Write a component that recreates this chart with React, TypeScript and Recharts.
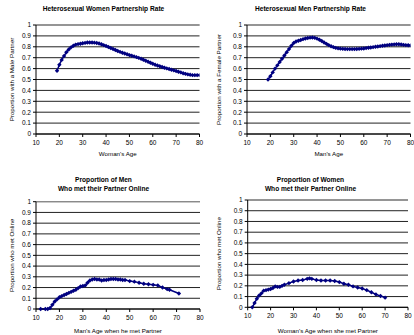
import React from "react";
import {
  LineChart,
  Line,
  XAxis,
  YAxis,
  CartesianGrid,
  ReferenceLine,
} from "recharts";

const xTicks = [10, 20, 30, 40, 50, 60, 70, 80];
const yTicks = [0, 0.1, 0.2, 0.3, 0.4, 0.5, 0.6, 0.7, 0.8, 0.9, 1];

const womenAges = [19,20,21,22,23,24,25,26,27,28,29,30,31,32,33,34,35,36,37,38,39,40,41,42,43,44,45,46,47,48,49,50,51,52,53,54,55,56,57,58,59,60,61,62,63,64,65,66,67,68,69,70,71,72,73,74,75,76,77,78,79,80];
const womenRate = [0.58,0.635,0.68,0.715,0.75,0.775,0.795,0.81,0.82,0.825,0.828,0.832,0.836,0.839,0.84,0.84,0.838,0.835,0.83,0.823,0.815,0.807,0.798,0.789,0.78,0.771,0.762,0.753,0.745,0.738,0.731,0.724,0.718,0.712,0.705,0.698,0.69,0.681,0.672,0.663,0.654,0.645,0.636,0.628,0.621,0.614,0.608,0.602,0.596,0.59,0.584,0.578,0.571,0.565,0.558,0.552,0.547,0.543,0.54,0.54,0.54,0.54];

const menAges = [19,20,21,22,23,24,25,26,27,28,29,30,31,32,33,34,35,36,37,38,39,40,41,42,43,44,45,46,47,48,49,50,51,52,53,54,55,56,57,58,59,60,61,62,63,64,65,66,67,68,69,70,71,72,73,74,75,76,77,78,79,80];
const menRate = [0.5,0.53,0.565,0.6,0.63,0.66,0.69,0.72,0.75,0.78,0.81,0.835,0.848,0.856,0.863,0.87,0.876,0.881,0.884,0.885,0.882,0.875,0.865,0.853,0.84,0.827,0.815,0.805,0.797,0.79,0.786,0.783,0.781,0.78,0.779,0.779,0.779,0.779,0.78,0.781,0.783,0.785,0.788,0.791,0.794,0.797,0.8,0.803,0.806,0.809,0.812,0.815,0.818,0.82,0.822,0.823,0.823,0.821,0.818,0.815,0.814,0.813];

const menOnlineAges = [12,14,15,16,17,18,19,20,21,22,23,24,25,26,27,28,29,30,31,32,33,34,35,36,37,38,39,40,41,42,43,44,45,46,47,48,50,52,54,56,58,60,62,64,66,67,71];
const menOnline = [0,0,0,0.01,0.04,0.07,0.09,0.11,0.12,0.13,0.14,0.15,0.16,0.17,0.18,0.195,0.21,0.215,0.22,0.245,0.265,0.275,0.28,0.275,0.275,0.265,0.27,0.27,0.275,0.28,0.28,0.28,0.275,0.275,0.27,0.27,0.26,0.255,0.245,0.235,0.23,0.225,0.22,0.2,0.185,0.18,0.145];

const womenOnlineAges = [12,13,14,15,16,17,18,19,20,21,22,23,24,25,26,28,30,32,34,36,37,38,40,42,44,46,48,50,52,54,56,58,60,62,64,66,68,70];
const womenOnline = [0,0.04,0.08,0.11,0.13,0.155,0.16,0.165,0.17,0.18,0.195,0.19,0.19,0.2,0.21,0.225,0.24,0.25,0.255,0.265,0.27,0.265,0.255,0.25,0.25,0.25,0.245,0.235,0.22,0.21,0.195,0.185,0.175,0.16,0.14,0.12,0.105,0.09];

const zip = (xs: number[], ys: number[]) => xs.map((x, i) => ({ x, y: ys[i] }));

const FONT = "'Liberation Sans', Arial, sans-serif";
const NAVY = "#000080";

const Diamond = (props: any) => {
  const { cx, cy, index } = props;
  if (cx == null || cy == null) return <g key={index} />;
  const s = 2.2;
  return (
    <polygon
      key={index}
      points={`${cx},${cy - s} ${cx + s},${cy} ${cx},${cy + s} ${cx - s},${cy}`}
      fill={NAVY}
      stroke="none"
    />
  );
};

type PanelProps = {
  data: { x: number; y: number }[];
  left: number;
  top: number;
  width: number;
  height: number;
  margin: { top: number; right: number; bottom: number; left: number };
  yWidth: number;
  xHeight: number;
  yLabel: string;
  xLabel: string;
  title: string[];
  titleTop: number;
};

const tickStyle = { fontSize: 6.5, fill: "#000", fontFamily: FONT };

const Panel = (p: PanelProps) => (
  <div style={{ position: "absolute", left: p.left, top: p.top, width: p.width, height: p.height }}>
    <div
      style={{
        position: "absolute",
        left: 0,
        width: p.width,
        top: p.titleTop,
        textAlign: "center",
        fontFamily: FONT,
        fontWeight: "bold",
        fontSize: 6.6,
        lineHeight: "9px",
        color: "#000",
      }}
    >
      {p.title.map((t, i) => (
        <div key={i}>{t}</div>
      ))}
    </div>
    <LineChart width={p.width} height={p.height} data={p.data} margin={p.margin}>
      <CartesianGrid horizontal vertical={false} stroke="#222" strokeWidth={1} />
      <XAxis
        dataKey="x"
        type="number"
        domain={[10, 80]}
        ticks={xTicks}
        interval={0}
        height={p.xHeight}
        stroke="#000"
        tickSize={3}
        tickMargin={3}
        tick={tickStyle}
        allowDataOverflow
        label={{ value: p.xLabel, position: "insideBottom", offset: 2, style: { fontSize: 6.2, fontFamily: FONT, fill: "#000" } }}
      />
      <YAxis
        type="number"
        domain={[0, 1]}
        ticks={yTicks}
        interval={0}
        width={p.yWidth}
        stroke="#000"
        tickSize={3}
        tickMargin={2}
        tick={tickStyle}
        label={{ value: p.yLabel, angle: -90, position: "insideLeft", offset: 12, style: { fontSize: 6.2, fontFamily: FONT, fill: "#000", textAnchor: "middle" } }}
      />
      <YAxis yAxisId="r" orientation="right" width={0} domain={[0, 1]} tick={false} stroke="#999" />
      <ReferenceLine y={1} stroke="#999" />
      <Line
        dataKey="y"
        stroke={NAVY}
        strokeWidth={1.5}
        dot={Diamond}
        isAnimationActive={false}
      />
    </LineChart>
  </div>
);

export default function App() {
  return (
    <div style={{ position: "absolute", left: 0, top: 0, width: 414, height: 335, background: "#fff" }}>
      <Panel
        data={zip(womenAges, womenRate)}
        left={0}
        top={0}
        width={207}
        height={165}
        margin={{ top: 25, right: 7.5, bottom: 7, left: 0 }}
        yWidth={36}
        xHeight={24}
        yLabel="Proportion with a Male Partner"
        xLabel="Woman's Age"
        title={["Heterosexual Women Partnership Rate"]}
        titleTop={4}
      />
      <Panel
        data={zip(menAges, menRate)}
        left={207}
        top={0}
        width={207}
        height={165}
        margin={{ top: 25, right: 3.5, bottom: 7, left: 0 }}
        yWidth={40}
        xHeight={24}
        yLabel="Proportion with a Female Partner"
        xLabel="Man's Age"
        title={["Heterosexual Men Partnership Rate"]}
        titleTop={4}
      />
      <Panel
        data={zip(menOnlineAges, menOnline)}
        left={0}
        top={165}
        width={207}
        height={170}
        margin={{ top: 36.7, right: 7, bottom: 0, left: 0 }}
        yWidth={36}
        xHeight={26}
        yLabel="Proportion who met Online"
        xLabel="Man's Age when he met Partner"
        title={["Proportion of Men", "Who met their Partner Online"]}
        titleTop={10}
      />
      <Panel
        data={zip(womenOnlineAges, womenOnline)}
        left={207}
        top={165}
        width={207}
        height={170}
        margin={{ top: 35, right: 6, bottom: 0, left: 0 }}
        yWidth={40.7}
        xHeight={27.7}
        yLabel="Proportion who met Online"
        xLabel="Woman's Age when she met Partner"
        title={["Proportion of Women", "Who met their Partner Online"]}
        titleTop={10}
      />
    </div>
  );
}
